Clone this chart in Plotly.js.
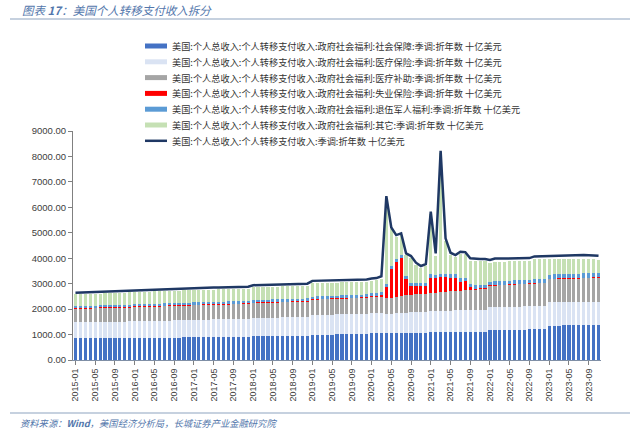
<!DOCTYPE html>
<html>
<head>
<meta charset="utf-8">
<script src="https://cdn.plot.ly/plotly-3.0.1.min.js"></script>
<style>
html,body{margin:0;padding:0;background:#fff;}
#chart{width:640px;height:431px;}
</style>
</head>
<body>
<div id="chart"></div>
<script>
// Month categories 2015-01 .. 2023-11
var months = [];
for (var y = 2015; y <= 2023; y++) {
  for (var m = 1; m <= 12; m++) {
    if (y === 2023 && m > 11) break;
    months.push(y + '-' + (m < 10 ? '0' + m : m));
  }
}
var tickLabels = months.filter(function (d, i) { return i % 4 === 0; });

var socialSecurity = [
  850,851,852,853,854,855,856,857,858,859,860,861,
  866,868,870,872,874,876,878,880,882,884,886,888,
  895,897,899,901,903,905,907,909,911,913,915,917,
  935,937,939,941,943,945,947,949,951,953,955,957,
  990,993,996,999,1002,1005,1008,1011,1014,1017,1020,1023,
  1045,1048,1051,1054,1057,1060,1063,1066,1069,1072,1075,1078,
  1085,1087,1089,1091,1093,1095,1097,1099,1101,1103,1105,1107,
  1175,1178,1181,1184,1187,1190,1193,1196,1199,1202,1205,1208,
  1352,1354,1356,1358,1360,1362,1364,1366,1368,1370,1372
];
var medicare = [
  638,640,641,643,644,646,647,649,650,652,653,655,
  657,659,661,663,665,667,669,671,673,675,677,679,
  681,683,685,687,689,691,693,695,697,699,701,703,
  708,711,714,717,720,723,726,729,732,735,738,741,
  765,770,775,778,781,784,787,790,793,796,799,802,
  805,800,790,760,740,770,790,800,805,810,815,820,
  830,835,840,845,850,855,858,861,864,867,870,873,
  895,898,900,902,904,906,908,910,912,914,916,918,
  915,916,917,918,919,920,921,922,923,924,925
];
var medicaid = [
  520,522,524,526,528,530,532,534,536,538,540,542,
  548,550,552,554,556,558,560,562,564,566,568,570,
  570,571,572,573,574,575,576,577,578,579,580,581,
  585,586,587,588,589,590,591,592,593,594,595,596,
  605,606,607,608,609,610,611,612,613,614,615,616,
  625,628,632,640,650,660,670,680,690,700,708,715,
  722,730,738,746,754,762,770,778,786,794,802,810,
  840,845,850,855,860,865,870,875,880,885,888,890,
  900,905,908,910,912,914,916,918,919,920,920
];
var unemployment = [
  36,36,35,35,35,34,34,34,33,33,33,33,
  32,32,32,32,32,31,31,31,31,31,30,30,
  30,30,30,29,29,29,29,29,29,28,28,28,
  28,28,28,28,27,27,27,27,27,27,27,27,
  27,27,27,27,27,27,27,27,27,27,27,27,
  27,28,75,400,1120,1380,1480,620,330,310,300,310,
  600,580,580,570,540,520,360,350,100,40,35,30,
  25,24,23,22,22,22,22,23,23,24,25,26,
  28,28,29,29,30,30,31,31,32,32,33
];
var veterans = [
  80,80,81,81,81,82,82,82,83,83,83,84,
  86,86,87,87,87,88,88,88,89,89,89,90,
  92,92,93,93,93,94,94,94,95,95,95,96,
  98,98,99,99,99,100,100,101,101,101,102,102,
  106,106,107,107,108,108,109,109,110,110,111,111,
  115,116,116,117,117,118,118,119,119,120,120,121,
  126,127,127,128,128,129,129,130,130,131,131,132,
  140,141,142,143,144,145,146,147,148,149,150,151,
  160,161,162,163,164,165,166,167,168,169,170
];
var other = [
  451,454,457,459,461,463,466,469,472,475,478,480,
  481,481,480,480,480,480,480,480,479,480,482,483,
  482,482,481,482,482,481,481,481,480,481,481,480,
  506,505,503,502,502,500,499,497,496,500,498,497,
  527,523,518,516,513,511,508,506,503,501,498,496,
  493,510,536,3389,1446,842,774,825,992,733,597,646,
  2377,741,4761,1310,760,674,951,932,924,950,937,923,
  735,779,774,764,758,747,741,729,723,776,771,767,
  605,601,598,597,595,594,587,576,560,545,525
];
var totalTransfers = [
  2640,2648,2655,2662,2668,2675,2682,2690,2697,2705,2712,2720,
  2740,2746,2752,2758,2764,2770,2776,2782,2788,2795,2802,2810,
  2825,2830,2835,2840,2845,2850,2855,2860,2865,2870,2875,2880,
  2940,2945,2950,2955,2960,2965,2970,2975,2980,2990,2995,3000,
  3110,3115,3120,3125,3130,3135,3140,3145,3150,3155,3160,3165,
  3200,3220,3290,6440,5210,4910,4975,4190,4085,3825,3695,3770,
  5830,4190,8225,4780,4215,4125,4255,4240,3995,3975,3970,3965,
  3930,3985,3990,3990,3995,3995,4000,4000,4005,4070,4075,4080,
  4110,4115,4120,4125,4130,4135,4135,4130,4120,4110,4095
];

var seriesNames = [
  '美国:个人总收入:个人转移支付收入:政府社会福利:社会保障:季调:折年数 十亿美元',
  '美国:个人总收入:个人转移支付收入:政府社会福利:医疗保险:季调:折年数 十亿美元',
  '美国:个人总收入:个人转移支付收入:政府社会福利:医疗补助:季调:折年数 十亿美元',
  '美国:个人总收入:个人转移支付收入:政府社会福利:失业保险:季调:折年数 十亿美元',
  '美国:个人总收入:个人转移支付收入:政府社会福利:退伍军人福利:季调:折年数 十亿美元',
  '美国:个人总收入:个人转移支付收入:政府社会福利:其它:季调:折年数 十亿美元',
  '美国:个人总收入:个人转移支付收入:季调:折年数 十亿美元'
];
var seriesColors = ['#4472C4', '#DAE3F3', '#A5A5A5', '#FF0000', '#5B9BD5', '#C5E0B4', '#1F3864'];
var barSeries = [socialSecurity, medicare, medicaid, unemployment, veterans, other];

var traces = barSeries.map(function (vals, i) {
  return {
    type: 'bar', x: months, y: vals, name: seriesNames[i],
    marker: { color: seriesColors[i], line: { width: 0 } },
    showlegend: false, hoverinfo: 'x+y'
  };
});
traces.push({
  type: 'scatter', mode: 'lines', x: months, y: totalTransfers, name: seriesNames[6],
  line: { color: seriesColors[6], width: 2.5 }, showlegend: false
});

// pixel -> paper helpers for plot area l=73, r=601, t=131, b=360
var L = 73, R = 601, T = 131, B = 360;
function px(x) { return (x - L) / (R - L); }
function py(y) { return (B - y) / (B - T); }

var shapes = [], annotations = [];
var legY = [46, 61.8, 77.6, 93.4, 109.2, 125, 140.8];
for (var i = 0; i < 7; i++) {
  if (i < 6) {
    shapes.push({ type: 'rect', xref: 'paper', yref: 'paper',
      x0: px(145), x1: px(167), y0: py(legY[i] + 2.5), y1: py(legY[i] - 2.5),
      fillcolor: seriesColors[i], line: { width: 0 } });
  } else {
    shapes.push({ type: 'line', xref: 'paper', yref: 'paper',
      x0: px(145), x1: px(167), y0: py(legY[i]), y1: py(legY[i]),
      line: { color: seriesColors[i], width: 2.5 } });
  }
  annotations.push({ xref: 'paper', yref: 'paper', x: px(170), y: py(legY[i]),
    xanchor: 'left', yanchor: 'middle', showarrow: false, text: seriesNames[i],
    font: { family: 'Noto Sans CJK SC', size: 9.2, color: '#333333' } });
}
// title and source rules
shapes.push({ type: 'line', xref: 'paper', yref: 'paper', x0: px(10), x1: px(630), y0: py(19), y1: py(19),
  line: { color: '#8EA4BF', width: 1.2 } });
shapes.push({ type: 'line', xref: 'paper', yref: 'paper', x0: px(10), x1: px(630), y0: py(413), y1: py(413),
  line: { color: '#8EA4BF', width: 1.2 } });
annotations.push({ xref: 'paper', yref: 'paper', x: px(20), y: py(10), xanchor: 'left', yanchor: 'middle',
  showarrow: false, text: '<i>图表 <b>17</b>：美国个人转移支付收入拆分</i>',
  font: { family: 'Noto Sans CJK SC', size: 11.5, color: '#5377AC' } });
annotations.push({ xref: 'paper', yref: 'paper', x: px(18), y: py(423), xanchor: 'left', yanchor: 'middle',
  showarrow: false, text: '<i>资料来源：<b>Wind</b>，美国经济分析局，长城证券产业金融研究院</i>',
  font: { family: 'Noto Sans CJK SC', size: 9.3, color: '#5377AC' } });

var layout = {
  width: 640, height: 431,
  margin: { l: L, r: 640 - R, t: T, b: 431 - B, pad: 0 },
  paper_bgcolor: '#ffffff', plot_bgcolor: '#ffffff',
  barmode: 'stack', bargap: 0.35,
  showlegend: false,
  font: { family: 'Liberation Sans, Arial, sans-serif', color: '#404040' },
  xaxis: {
    type: 'category', categoryorder: 'array', categoryarray: months,
    tickmode: 'array', tickvals: tickLabels, ticktext: tickLabels,
    tickangle: -90, tickfont: { size: 9, color: '#404040' },
    ticks: 'outside', ticklen: 4, tickcolor: '#808080',
    showline: true, linecolor: '#7F8FA6', linewidth: 1,
    showgrid: false, zeroline: false, fixedrange: true,
    range: [-0.5, months.length - 0.5]
  },
  yaxis: {
    range: [0, 9000], tickmode: 'linear', tick0: 0, dtick: 1000, tickformat: '.2f',
    tickfont: { size: 9.5, color: '#404040' },
    ticks: 'outside', ticklen: 4, tickcolor: '#808080',
    showline: true, linecolor: '#808080', linewidth: 1,
    showgrid: false, zeroline: false, fixedrange: true
  },
  shapes: shapes,
  annotations: annotations
};

Plotly.newPlot('chart', traces, layout, { displayModeBar: false, staticPlot: true });
</script>
</body>
</html>
